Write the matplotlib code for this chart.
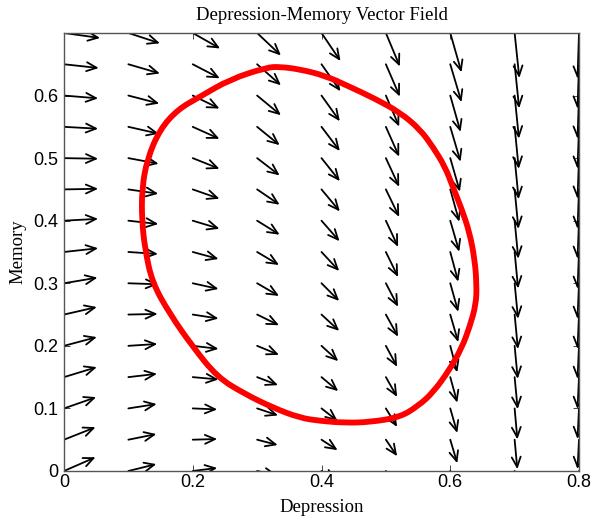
import matplotlib
matplotlib.use("Agg")
import matplotlib.pyplot as plt
from matplotlib.patches import FancyArrowPatch, PathPatch
from matplotlib.path import Path

# ---------------- data ----------------
x_grid = [0.0, 0.1, 0.2, 0.3, 0.4, 0.5, 0.6, 0.7, 0.8]
y_grid = [0.0, 0.05, 0.10, 0.15, 0.20, 0.25, 0.30, 0.35, 0.40,
          0.45, 0.50, 0.55, 0.60, 0.65, 0.70]

# drawn arrow components (data units), one list per column, rows y = 0 .. 0.7
u_00 = [0.049, 0.049, 0.050, 0.051, 0.051, 0.051, 0.052, 0.053, 0.053, 0.053, 0.053, 0.053, 0.053, 0.054, 0.056]
v_00 = [0.022, 0.020, 0.018, 0.016, 0.014, 0.012, 0.009, 0.006, 0.003, 0.001, -0.001, -0.003, -0.0045, -0.006, -0.008]
u_01 = [0.0435, 0.0435, 0.044, 0.0445, 0.045, 0.0455, 0.046, 0.046, 0.0465, 0.0465, 0.047, 0.0475, 0.048, 0.049, 0.049]
v_01 = [0.011, 0.009, 0.007, 0.0053, 0.003, 0.001, -0.0016, -0.0032, -0.0053, -0.0069, -0.009, -0.011, -0.0128, -0.0147, -0.0165]
u_02 = [0.038, 0.038, 0.038, 0.040, 0.040, 0.040, 0.040, 0.040, 0.0415, 0.0415, 0.0415, 0.0415, 0.0415, 0.042, 0.0425]
v_02 = [0.0048, 0.0011, -0.0016, -0.0037, -0.0048, -0.0064, -0.0091, -0.0112, -0.0128, -0.0149, -0.0171, -0.0192, -0.0208, -0.0224, -0.0248]
u_03 = [0.031, 0.032, 0.0325, 0.0325, 0.034, 0.034, 0.034, 0.034, 0.035, 0.035, 0.035, 0.035, 0.037, 0.037, 0.037]
v_03 = [-0.0064, -0.0085, -0.0112, -0.0128, -0.0144, -0.0171, -0.0203, -0.0208, -0.0224, -0.0245, -0.0277, -0.0293, -0.0315, -0.0336, -0.036]
u_04 = [0.024, 0.025, 0.025, 0.026, 0.026, 0.0275, 0.0275, 0.0275, 0.028, 0.0285, 0.0285, 0.0285, 0.0285, 0.0295, 0.0295]
v_04 = [-0.0144, -0.0168, -0.020, -0.0224, -0.0245, -0.0261, -0.0283, -0.0304, -0.0328, -0.0352, -0.0368, -0.0387, -0.0411, -0.0432, -0.0448]
u_05 = [0.017, 0.0175, 0.0175, 0.0175, 0.0175, 0.019, 0.019, 0.019, 0.019, 0.0207, 0.0207, 0.0207, 0.0207, 0.0217, 0.0217]
v_05 = [-0.024, -0.0264, -0.0296, -0.0317, -0.0336, -0.0355, -0.0376, -0.040, -0.0419, -0.044, -0.0459, -0.0477, -0.0496, -0.0517, -0.0536]
u_06 = [0.0104, 0.0109, 0.0109, 0.0109, 0.0109, 0.0124, 0.0124, 0.0124, 0.014, 0.014, 0.015, 0.016, 0.016, 0.0175, 0.0175]
v_06 = [-0.036, -0.0376, -0.0392, -0.0408, -0.0424, -0.044, -0.0456, -0.0475, -0.0496, -0.0517, -0.0536, -0.0557, -0.0581, -0.0605, -0.0629]
u_07 = [0.0039, 0.0042, 0.0043, 0.0047, 0.0048, 0.0051, 0.0053, 0.0054, 0.0057, 0.0059, 0.0062, 0.0064, 0.0067, 0.007, 0.0073]
v_07 = [-0.0448, -0.0472, -0.0496, -0.0512, -0.0528, -0.0552, -0.0568, -0.0584, -0.0608, -0.0632, -0.0656, -0.0672, -0.0688, -0.0704, -0.072]
u_08 = [-0.0023, -0.0023, -0.0023, -0.0023, -0.0023, -0.0023, -0.0023, -0.0023, -0.0023, -0.0023, -0.0023, -0.0023, -0.0023, -0.0023, -0.0023]
v_08 = [-0.045, -0.047, -0.049, -0.051, -0.053, -0.055, -0.057, -0.059, -0.061, -0.063, -0.065, -0.067, -0.069, -0.071, -0.073]

u_columns = [u_00, u_01, u_02, u_03, u_04, u_05, u_06, u_07, u_08]
v_columns = [v_00, v_01, v_02, v_03, v_04, v_05, v_06, v_07, v_08]

# closed orbit (red curve), points read clockwise from the top
orbit_x = [0.315, 0.335, 0.366, 0.405, 0.444, 0.483, 0.522, 0.553, 0.573, 0.592,
           0.604, 0.618, 0.630, 0.638, 0.641, 0.640, 0.630, 0.618, 0.599, 0.573,
           0.550, 0.522, 0.475, 0.436, 0.398, 0.366, 0.325, 0.281, 0.238, 0.199,
           0.165, 0.137, 0.126, 0.121, 0.121, 0.129, 0.149, 0.177, 0.211, 0.258]
orbit_y = [0.645, 0.646, 0.642, 0.632, 0.614, 0.595, 0.573, 0.546, 0.518, 0.486,
           0.454, 0.418, 0.381, 0.338, 0.298, 0.266, 0.230, 0.197, 0.162, 0.125,
           0.104, 0.086, 0.078, 0.077, 0.080, 0.085, 0.101, 0.123, 0.150, 0.200,
           0.250, 0.301, 0.354, 0.400, 0.450, 0.498, 0.546, 0.578, 0.598, 0.626]

x_ticks = [0, 0.2, 0.4, 0.6, 0.8]
x_ticklabels = ["0", "0.2", "0.4", "0.6", "0.8"]
y_ticks = [0, 0.1, 0.2, 0.3, 0.4, 0.5, 0.6]
y_ticklabels = ["0", "0.1", "0.2", "0.3", "0.4", "0.5", "0.6"]

title_text = "Depression-Memory Vector Field"
xlabel_text = "Depression"
ylabel_text = "Memory"

# ---------------- figure ----------------
fig = plt.figure(figsize=(6.01, 5.21), dpi=100)
ax = fig.add_axes([0.1065, 0.096, 0.8569, 0.8407])
ax.set_xlim(0, 0.8)
ax.set_ylim(0, 0.7)

# vector field arrows (open heads, MATLAB quiver look)
for xi, us, vs in zip(x_grid, u_columns, v_columns):
    for yi, u, v in zip(y_grid, us, vs):
        arr = FancyArrowPatch((xi, yi), (xi + u, yi + v),
                              arrowstyle="->,head_length=0.45,head_width=0.2",
                              mutation_scale=16, lw=1.3, color="black",
                              shrinkA=0, shrinkB=0, zorder=2)
        ax.add_patch(arr)

# closed orbit: smooth closed path through the read points (quadratic B-spline rendering)
pts = list(zip(orbit_x, orbit_y))
n = len(pts)
mids = [((pts[i][0] + pts[(i + 1) % n][0]) / 2, (pts[i][1] + pts[(i + 1) % n][1]) / 2)
        for i in range(n)]
verts = [mids[-1]]
codes = [Path.MOVETO]
for i in range(n):
    verts += [pts[i], mids[i]]
    codes += [Path.CURVE3, Path.CURVE3]
orbit_path = Path(verts, codes)
ax.add_patch(PathPatch(orbit_path, facecolor="none", edgecolor="#ff0000",
                       lw=4.2, joinstyle="round", zorder=3))

sans = "Liberation Sans"
serif = "Liberation Serif"

ax.set_xticks(x_ticks)
ax.set_xticklabels(x_ticklabels, fontfamily=sans, fontsize=13)
ax.set_yticks(y_ticks)
ax.set_yticklabels(y_ticklabels, fontfamily=sans, fontsize=13)
ax.tick_params(axis="both", direction="in", top=True, right=True,
               length=4, width=0.7, color="#444444")
ax.tick_params(axis="x", pad=2)
ax.tick_params(axis="y", pad=4)

for s in ax.spines.values():
    s.set_color("#555555")
    s.set_linewidth(1.0)

ax.set_title(title_text, fontfamily=serif, fontsize=13.5, pad=9)
ax.set_xlabel(xlabel_text, fontfamily=serif, fontsize=13.5, labelpad=6)
ax.set_ylabel(ylabel_text, fontfamily=serif, fontsize=13.5, labelpad=5)

fig.savefig("out.png", dpi=100)
